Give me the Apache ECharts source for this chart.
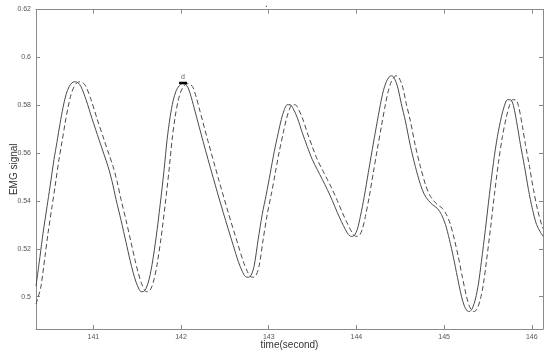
<!DOCTYPE html>
<html>
<head>
<meta charset="utf-8">
<script src="https://cdn.jsdelivr.net/npm/echarts@6/dist/echarts.min.js"></script>
<style>html,body{margin:0;padding:0;background:#fff}#c{width:550px;height:357px}</style>
</head>
<body>
<div id="c"></div>
<script>
// Solid curve (measured EMG)
const solidTime = [140.346,140.392,140.426,140.472,140.506,140.551,140.586,140.620,140.654,140.688,140.723,140.757,140.791,140.825,140.860,140.917,140.985,141.065,141.122,141.168,141.214,141.259,141.316,141.373,141.419,141.453,141.488,141.522,141.545,141.567,141.602,141.636,141.670,141.716,141.762,141.807,141.841,141.876,141.910,141.944,141.978,142.013,142.047,142.081,142.115,142.161,142.252,142.366,142.481,142.595,142.652,142.698,142.732,142.766,142.800,142.835,142.880,142.926,142.972,143.017,143.063,143.109,143.143,143.177,143.211,143.246,143.280,143.326,143.383,143.440,143.497,143.554,143.611,143.668,143.725,143.782,143.828,143.874,143.908,143.942,143.976,144.010,144.045,144.090,144.136,144.181,144.227,144.273,144.307,144.341,144.376,144.398,144.421,144.455,144.478,144.512,144.558,144.615,144.672,144.730,144.775,144.821,144.866,144.923,144.969,145.015,145.060,145.106,145.152,145.198,145.232,145.266,145.289,145.323,145.357,145.391,145.426,145.471,145.517,145.563,145.608,145.654,145.688,145.722,145.757,145.791,145.837,145.871,145.917,145.962,146.008,146.054,146.099,146.128];
const solidValue = [0.5044,0.5169,0.5265,0.5377,0.5460,0.5573,0.5648,0.5723,0.5790,0.5844,0.5877,0.5894,0.5898,0.5894,0.5877,0.5823,0.5744,0.5656,0.5594,0.5544,0.5481,0.5406,0.5319,0.5227,0.5152,0.5102,0.5060,0.5031,0.5021,0.5021,0.5035,0.5073,0.5135,0.5248,0.5385,0.5531,0.5656,0.5752,0.5819,0.5860,0.5881,0.5890,0.5888,0.5873,0.5835,0.5773,0.5648,0.5498,0.5352,0.5215,0.5148,0.5106,0.5085,0.5081,0.5090,0.5131,0.5240,0.5344,0.5427,0.5515,0.5606,0.5685,0.5740,0.5781,0.5802,0.5802,0.5785,0.5748,0.5685,0.5627,0.5573,0.5531,0.5490,0.5448,0.5402,0.5352,0.5315,0.5281,0.5260,0.5252,0.5256,0.5281,0.5335,0.5419,0.5519,0.5615,0.5710,0.5802,0.5860,0.5898,0.5919,0.5923,0.5919,0.5894,0.5865,0.5806,0.5735,0.5631,0.5544,0.5469,0.5427,0.5402,0.5385,0.5369,0.5344,0.5302,0.5240,0.5165,0.5081,0.5002,0.4960,0.4940,0.4938,0.4952,0.4990,0.5052,0.5148,0.5281,0.5427,0.5560,0.5669,0.5752,0.5798,0.5823,0.5823,0.5798,0.5710,0.5635,0.5544,0.5448,0.5365,0.5302,0.5269,0.5252];
// Dashed curve (estimated / delayed)
const dashTime = [140.346,140.380,140.403,140.449,140.483,140.529,140.563,140.608,140.643,140.677,140.711,140.745,140.780,140.814,140.848,140.882,140.917,140.974,141.042,141.122,141.179,141.225,141.271,141.316,141.373,141.430,141.476,141.510,141.545,141.579,141.602,141.624,141.659,141.693,141.727,141.773,141.819,141.864,141.898,141.933,141.967,142.001,142.035,142.070,142.104,142.138,142.172,142.218,142.309,142.423,142.538,142.652,142.709,142.755,142.789,142.823,142.857,142.892,142.937,142.983,143.029,143.074,143.120,143.166,143.200,143.234,143.268,143.303,143.337,143.383,143.440,143.497,143.554,143.611,143.668,143.725,143.782,143.839,143.885,143.931,143.965,143.999,144.033,144.067,144.102,144.147,144.193,144.238,144.284,144.330,144.364,144.398,144.433,144.455,144.478,144.512,144.535,144.569,144.615,144.672,144.729,144.787,144.832,144.878,144.923,144.980,145.026,145.072,145.117,145.163,145.209,145.255,145.289,145.323,145.346,145.380,145.414,145.448,145.483,145.528,145.574,145.620,145.665,145.711,145.745,145.779,145.814,145.848,145.894,145.928,145.974,146.019,146.065,146.111,146.128];
const dashValue = [0.4969,0.5010,0.5044,0.5169,0.5265,0.5377,0.5460,0.5573,0.5648,0.5723,0.5790,0.5844,0.5877,0.5894,0.5898,0.5894,0.5877,0.5823,0.5744,0.5656,0.5594,0.5544,0.5481,0.5406,0.5319,0.5227,0.5152,0.5102,0.5060,0.5031,0.5021,0.5021,0.5035,0.5073,0.5135,0.5248,0.5385,0.5531,0.5656,0.5752,0.5819,0.5860,0.5881,0.5890,0.5888,0.5873,0.5835,0.5773,0.5648,0.5498,0.5352,0.5215,0.5148,0.5106,0.5085,0.5081,0.5090,0.5131,0.5240,0.5344,0.5427,0.5515,0.5606,0.5685,0.5740,0.5781,0.5802,0.5802,0.5785,0.5748,0.5685,0.5627,0.5573,0.5531,0.5490,0.5448,0.5402,0.5352,0.5315,0.5281,0.5260,0.5252,0.5256,0.5281,0.5335,0.5419,0.5519,0.5615,0.5710,0.5802,0.5860,0.5898,0.5919,0.5923,0.5919,0.5894,0.5865,0.5806,0.5735,0.5631,0.5544,0.5469,0.5427,0.5402,0.5385,0.5369,0.5344,0.5302,0.5240,0.5165,0.5081,0.5002,0.4960,0.4940,0.4938,0.4952,0.4990,0.5052,0.5148,0.5281,0.5427,0.5560,0.5669,0.5752,0.5798,0.5823,0.5823,0.5798,0.5710,0.5635,0.5544,0.5448,0.5365,0.5302,0.5285];
// "d" marker segment
const markTime = [141.978, 142.068];
const markValue = [0.5893, 0.5893];
const markLabel = 'd';
// Axis ticks
const xTicks = [141,142,143,144,145,146];
const yTicks = [0.5,0.52,0.54,0.56,0.58,0.6,0.62];
const xRange = [140.346, 146.128];
const yRange = [0.4865, 0.62];

const toPairs = (t, v) => t.map((x, i) => [x, v[i]]);
const axisCol = '#8a8a8a';
const labCol = '#555';

const chart = echarts.init(document.getElementById('c'), null, {renderer: 'canvas'});
const tickCommon = {show: true, inside: true, length: 4, lineStyle: {color: axisCol, width: 1}};
chart.setOption({
  animation: false,
  title: {text: '.', left: 260, top: -6, textStyle: {fontSize: 10, color: '#444', fontWeight: 'normal'}},
  grid: {left: 36, right: 7, top: 9.5, bottom: 28, containLabel: false, outerBoundsMode: 'none'},
  xAxis: [{
    type: 'value', min: xRange[0], max: xRange[1],
    name: 'time(second)', nameLocation: 'middle', nameGap: 11, nameMoveOverlap: false,
    nameTextStyle: {fontSize: 10, color: '#333', fontFamily: 'Liberation Sans', verticalAlign: 'top'},
    axisLine: {show: true, lineStyle: {color: axisCol, width: 1}},
    axisTick: Object.assign({customValues: xTicks}, tickCommon),
    axisLabel: {customValues: xTicks, fontSize: 7, color: labCol, margin: 5, fontFamily: 'Liberation Sans'},
    splitLine: {show: false}
  }, {
    type: 'value', position: 'top', min: xRange[0], max: xRange[1],
    axisLine: {show: true, lineStyle: {color: axisCol, width: 1}},
    axisTick: Object.assign({customValues: xTicks}, tickCommon),
    axisLabel: {show: false}, splitLine: {show: false}
  }],
  yAxis: [{
    type: 'value', min: yRange[0], max: yRange[1],
    name: 'EMG signal', nameLocation: 'middle', nameGap: 17, nameRotate: 90, nameMoveOverlap: false,
    nameTextStyle: {fontSize: 10, color: '#333', fontFamily: 'Liberation Sans'},
    axisLine: {show: true, lineStyle: {color: axisCol, width: 1}},
    axisTick: Object.assign({customValues: yTicks}, tickCommon),
    axisLabel: {customValues: yTicks, fontSize: 7, color: labCol, margin: 5, fontFamily: 'Liberation Sans',
      formatter: v => String(+v.toFixed(2))},
    splitLine: {show: false}
  }, {
    type: 'value', position: 'right', min: yRange[0], max: yRange[1],
    axisLine: {show: true, lineStyle: {color: axisCol, width: 1}},
    axisTick: Object.assign({customValues: yTicks}, tickCommon),
    axisLabel: {show: false}, splitLine: {show: false}
  }],
  series: [{
    type: 'line', data: toPairs(solidTime, solidValue), showSymbol: false, symbol: 'none',
    smooth: 0.3, lineStyle: {color: '#4a4a4a', width: 1}, clip: true
  }, {
    type: 'line', data: toPairs(dashTime, dashValue), showSymbol: false, symbol: 'none',
    smooth: 0.3, lineStyle: {color: '#4a4a4a', width: 1, type: [5, 3]}, clip: true
  }, {
    type: 'line', data: toPairs(markTime, markValue), showSymbol: false, symbol: 'none',
    lineStyle: {color: '#000', width: 2.5}
  }, {
    type: 'scatter', symbolSize: 0,
    data: [[(markTime[0] + markTime[1]) / 2, markValue[0]]],
    label: {show: true, formatter: markLabel, position: 'top', distance: 2, fontSize: 7, color: '#333'}
  }]
});
</script>
</body>
</html>
